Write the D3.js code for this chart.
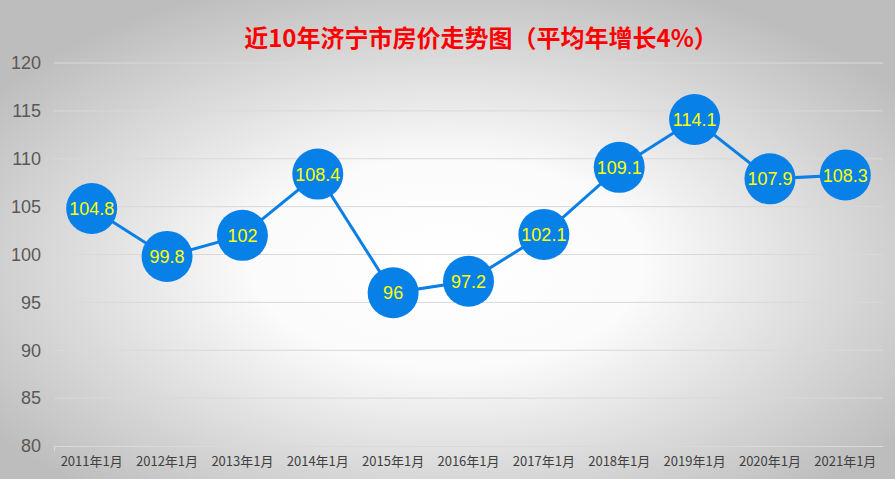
<!DOCTYPE html>
<html><head><meta charset="utf-8">
<script src="https://cdn.jsdelivr.net/npm/d3@7"></script>
<style>html,body{margin:0;padding:0;background:#fff;}svg{display:block;}</style>
</head><body>
<svg id="chart" width="895" height="479"></svg>
<script>
const title = "近10年济宁市房价走势图（平均年增长4%）";
const categories = ["2011年1月","2012年1月","2013年1月","2014年1月","2015年1月","2016年1月","2017年1月","2018年1月","2019年1月","2020年1月","2021年1月"];
const values = [104.8, 99.8, 102, 108.4, 96, 97.2, 102.1, 109.1, 114.1, 107.9, 108.3];
const yTicks = [80, 85, 90, 95, 100, 105, 110, 115, 120];

const W = 895, H = 479;
const m = {left: 54, right: 12, top: 63, bottom: 33};
const svg = d3.select("#chart");
const defs = svg.append("defs");
const g = defs.append("radialGradient").attr("id","bg")
  .attr("cx","50%").attr("cy","55%").attr("r","62%")
  .attr("gradientUnits","objectBoundingBox");
g.append("stop").attr("offset","0%").attr("stop-color","#ffffff");
g.append("stop").attr("offset","35%").attr("stop-color","#fbfbfb");
g.append("stop").attr("offset","100%").attr("stop-color","#bdbdbd");
svg.append("rect").attr("width",W).attr("height",H).attr("fill","url(#bg)");

const x = d3.scaleBand().domain(categories).range([m.left, W - m.right]);
const y = d3.scaleLinear().domain([80,120]).range([H - m.bottom, m.top]);

// gridlines
svg.append("g").selectAll("line").data(yTicks.filter(d=>d>80)).join("line")
  .attr("x1", m.left).attr("x2", W - m.right)
  .attr("y1", d=>y(d)).attr("y2", d=>y(d))
  .attr("stroke","#d9d9d9").attr("stroke-width",1);

// y axis labels
const yAxis = d3.axisLeft(y).tickValues(yTicks).tickSize(0).tickPadding(13);
const ya = svg.append("g").attr("transform",`translate(${m.left},0)`).call(yAxis);
ya.select(".domain").remove();
ya.selectAll("text").attr("font-family","'Liberation Sans', Arial, sans-serif")
  .attr("font-size",18).attr("fill","#595959");

// x axis
const xAxis = d3.axisBottom(x).tickSize(0).tickPadding(11);
const xa = svg.append("g").attr("transform",`translate(0,${y(80)})`).call(xAxis);
xa.select(".domain").attr("stroke","#d9d9d9");
xa.selectAll("text").attr("font-family","'Noto Sans CJK SC', sans-serif")
  .attr("font-size",13).attr("fill","#404040");
svg.append("line").attr("x1",m.left+0.5).attr("x2",m.left+0.5)
  .attr("y1",y(80)).attr("y2",y(80)+5).attr("stroke","#d9d9d9");

// line
const line = d3.line().x((d,i)=>x(categories[i]) + x.bandwidth()/2).y(d=>y(d));
svg.append("path").datum(values).attr("d",line)
  .attr("fill","none").attr("stroke","#0a7fe6").attr("stroke-width",3);

// markers
const pts = svg.append("g").selectAll("g").data(values).join("g")
  .attr("transform",(d,i)=>`translate(${x(categories[i]) + x.bandwidth()/2},${y(d)})`);
pts.append("circle").attr("r",25.5).attr("fill","#0780e8");
pts.append("text").text(d=>d).attr("text-anchor","middle").attr("dy","0.36em")
  .attr("font-family","'Liberation Sans', Arial, sans-serif")
  .attr("font-size",18).attr("fill","#ffff00");

// title
svg.append("text").text(title).attr("x",481).attr("y",47)
  .attr("text-anchor","middle").attr("font-family","'Noto Sans CJK SC', sans-serif")
  .attr("font-weight","bold").attr("font-size",24).attr("fill","#ff0000");
</script>
</body></html>
